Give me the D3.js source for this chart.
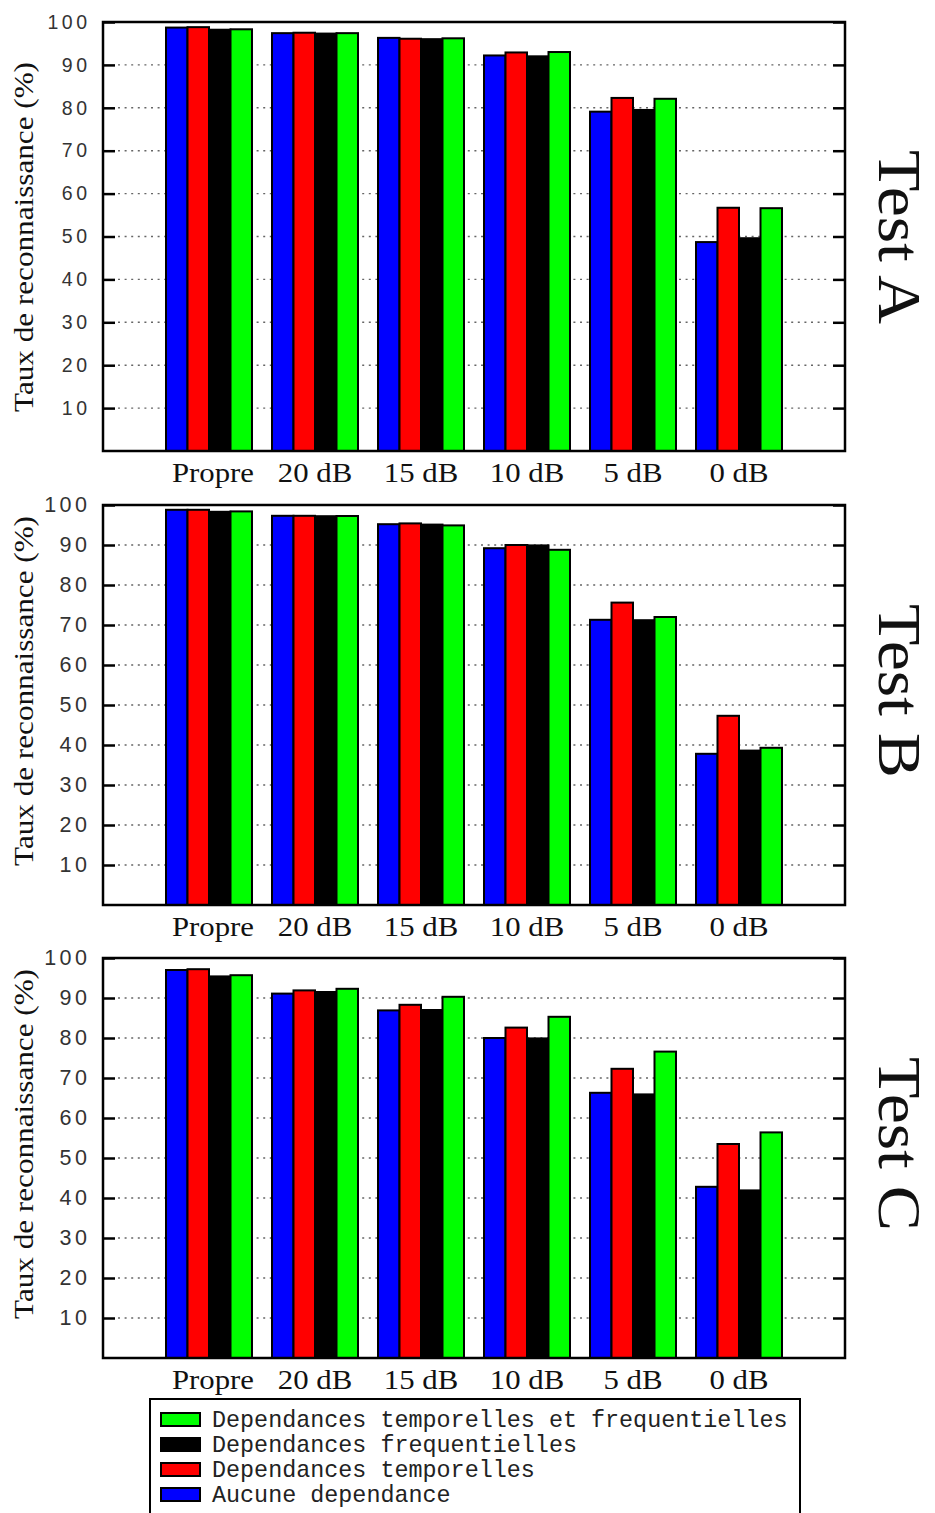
<!DOCTYPE html>
<html><head><meta charset="utf-8">
<script src="https://cdn.jsdelivr.net/npm/d3@7"></script>
<style>body{margin:0;background:#fff}svg{display:block}</style>
</head><body>
<script>
// ---- data ----
const categories = ["Propre","20 dB","15 dB","10 dB","5 dB","0 dB"];
const seriesNames = ["Aucune dependance","Dependances temporelles","Dependances frequentielles","Dependances temporelles et frequentielles"];
const seriesColors = ["#0000ff","#ff0000","#000000","#00ff00"];
const yTicks = [10,20,30,40,50,60,70,80,90,100];
const testNames = ["Test A","Test B","Test C"];

const testA_aucune        = [98.7, 97.4, 96.3, 92.2, 79.1, 48.7];
const testA_temporelles   = [98.8, 97.5, 96.1, 92.9, 82.3, 56.7];
const testA_frequentielles= [98.2, 97.3, 96.0, 92.0, 79.5, 49.6];
const testA_tempfreq      = [98.3, 97.4, 96.2, 93.0, 82.1, 56.6];

const testB_aucune        = [98.8, 97.3, 95.2, 89.2, 71.3, 37.8];
const testB_temporelles   = [98.8, 97.3, 95.4, 90.0, 75.6, 47.3];
const testB_frequentielles= [98.3, 97.2, 95.1, 89.9, 71.2, 38.6];
const testB_tempfreq      = [98.4, 97.25, 94.9, 88.8, 72.0, 39.3];

const testC_aucune        = [97.0, 91.1, 86.9, 80.0, 66.3, 42.8];
const testC_temporelles   = [97.2, 91.9, 88.3, 82.6, 72.3, 53.5];
const testC_frequentielles= [95.4, 91.5, 87.0, 79.9, 65.9, 41.9];
const testC_tempfreq      = [95.7, 92.3, 90.3, 85.3, 76.6, 56.4];

const testsData = [
  [testA_aucune, testA_temporelles, testA_frequentielles, testA_tempfreq],
  [testB_aucune, testB_temporelles, testB_frequentielles, testB_tempfreq],
  [testC_aucune, testC_temporelles, testC_frequentielles, testC_tempfreq]
];

// ---- layout ----
const W = 935, H = 1513;
const svg = d3.select("body").append("svg").attr("width", W).attr("height", H);
const X0 = 103, X1 = 845;
const panels = [
  {top: 22, bottom: 451, labelC: 237, tickFont: 19.5},
  {top: 505, bottom: 905, labelC: 691, tickFont: 21.5},
  {top: 958, bottom: 1358, labelC: 1144, tickFont: 21.5}
];
const slot = (X1 - X0) / 7;
const x = d3.scaleBand().domain(categories).range([X0 + slot/2, X1 - slot/2]).padding(0);
const groupW = 86;
const xs = d3.scaleBand().domain(seriesNames)
  .range([(x.bandwidth()-groupW)/2, (x.bandwidth()+groupW)/2]).padding(0);

panels.forEach((p, pi) => {
  const g = svg.append("g");
  const y = d3.scaleLinear().domain([0,100]).range([p.bottom, p.top]);
  const tickLen = 12;

  // grid
  g.append("g").selectAll("line").data(yTicks.filter(t => t < 100)).join("line")
    .attr("x1", X0 + tickLen + 3).attr("x2", X1 - tickLen - 3)
    .attr("y1", d => y(d)).attr("y2", d => y(d))
    .attr("stroke", "#666").attr("stroke-width", 1.4)
    .attr("stroke-dasharray", "2,4.6");

  // bars
  const data = testsData[pi];
  seriesNames.forEach((s, si) => {
    g.append("g").selectAll("rect").data(data[si]).join("rect")
      .attr("x", (d,i) => x(categories[i]) + xs(s))
      .attr("y", d => y(d))
      .attr("width", xs.bandwidth())
      .attr("height", d => y(0) - y(d))
      .attr("fill", seriesColors[si])
      .attr("stroke", "#000").attr("stroke-width", 2);
  });

  // axes
  const axL = d3.axisLeft(y).tickValues(yTicks).tickSizeInner(-tickLen).tickSizeOuter(0).tickPadding(12.5);
  const gl = g.append("g").attr("transform", `translate(${X0},0)`).call(axL);
  gl.select(".domain").remove();
  gl.selectAll(".tick line").attr("stroke", "#000").attr("stroke-width", 2.5);
  gl.selectAll(".tick text")
    .attr("font-family", "'Liberation Sans', Arial, sans-serif")
    .attr("font-size", p.tickFont).attr("letter-spacing", 3.5)
    .attr("fill", "#333");

  const axR = d3.axisRight(y).tickValues(yTicks).tickSizeInner(-tickLen).tickSizeOuter(0).tickFormat("");
  const gr = g.append("g").attr("transform", `translate(${X1},0)`).call(axR);
  gr.select(".domain").remove();
  gr.selectAll(".tick line").attr("stroke", "#000").attr("stroke-width", 2.5);

  // frame
  g.append("rect").attr("x", X0).attr("y", p.top).attr("width", X1 - X0).attr("height", p.bottom - p.top)
    .attr("fill", "none").attr("stroke", "#000").attr("stroke-width", 2.5);

  // category labels
  g.append("g").selectAll("text").data(categories).join("text")
    .attr("transform", (d,i) => `translate(${x(d) + x.bandwidth()/2 + (i === 0 ? 4 : 0)},${p.bottom + 31}) scale(1.14,1)`)
    .attr("text-anchor", "middle")
    .attr("font-family", "'Liberation Serif', 'Times New Roman', serif")
    .attr("font-size", 27).attr("fill", "#111")
    .text(d => d);

  // y title
  g.append("text")
    .attr("transform", `translate(33,${p.labelC}) rotate(-90)`)
    .attr("text-anchor", "middle")
    .attr("font-family", "'Liberation Serif', 'Times New Roman', serif")
    .attr("font-size", 28).attr("fill", "#111")
    .attr("textLength", 350).attr("lengthAdjust", "spacingAndGlyphs")
    .text("Taux de reconnaissance (%)");

  // test label
  g.append("text")
    .attr("transform", `translate(879,${p.labelC}) rotate(90)`)
    .attr("text-anchor", "middle")
    .attr("font-family", "'Liberation Serif', 'Times New Roman', serif")
    .attr("font-size", 61).attr("fill", "#111")
    .attr("textLength", 174).attr("lengthAdjust", "spacingAndGlyphs")
    .text(testNames[pi]);
});

// legend
const lg = svg.append("g");
lg.append("rect").attr("x", 150).attr("y", 1399).attr("width", 650).attr("height", 140)
  .attr("fill", "#fff").attr("stroke", "#000").attr("stroke-width", 2);
const legendOrder = [3,2,1,0];
const ly = d3.scaleBand().domain(legendOrder).range([1407, 1507]);
legendOrder.forEach(si => {
  lg.append("rect").attr("x", 161).attr("y", ly(si) + ly.bandwidth()/2 - 6.5)
    .attr("width", 39).attr("height", 13)
    .attr("fill", seriesColors[si]).attr("stroke", "#000").attr("stroke-width", 2);
  lg.append("text").attr("x", 212).attr("y", ly(si) + ly.bandwidth()/2 + 7)
    .attr("font-family", "'Liberation Mono', 'Courier New', monospace")
    .attr("font-size", 23.4).attr("fill", "#222")
    .text(seriesNames[si]);
});
</script>
</body></html>
